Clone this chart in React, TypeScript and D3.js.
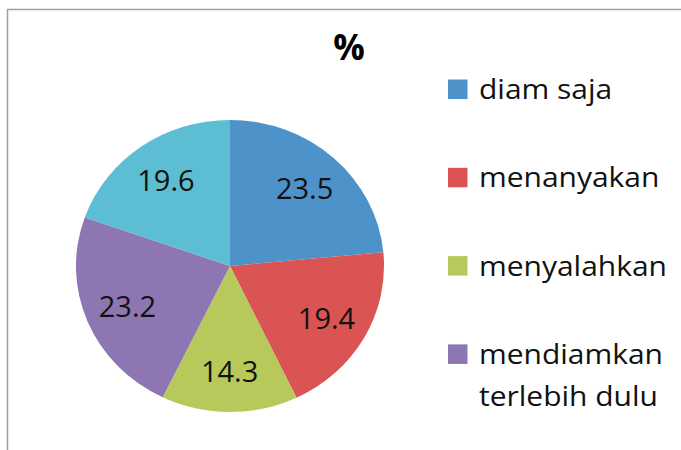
import { useEffect, useRef } from 'react'
import * as d3 from 'd3'

const categories = ['diam saja', 'menanyakan', 'menyalahkan', 'mendiamkan terlebih dulu', 'lainnya']
const values = [23.5, 19.4, 14.3, 23.2, 19.6]
const colors = ['#4D93C9', '#D95452', '#B8C95B', '#8D76B1', '#5DBDD2']
// the legend only shows the first four entries (the fifth is cut off)
const legendLines = [['diam saja'], ['menanyakan'], ['menyalahkan'], ['mendiamkan', 'terlebih dulu']]

const width = 681
const height = 450

export default function App() {
  const svgRef = useRef<SVGSVGElement>(null)

  useEffect(() => {
    if (!svgRef.current) return
    const svg = d3.select(svgRef.current)
    svg.selectAll('*').remove()

    // outer frame
    svg.append('rect')
      .attr('x', 7.5)
      .attr('y', 9.5)
      .attr('width', 700)
      .attr('height', 500)
      .attr('fill', 'white')
      .attr('stroke', '#A0A0A0')
      .attr('stroke-width', 1.5)

    // title
    svg.append('text')
      .attr('x', 349)
      .attr('y', 60)
      .attr('text-anchor', 'middle')
      .style('font-family', '"Open Sans", sans-serif')
      .style('font-weight', 'bold')
      .style('font-size', '35px')
      .text('%')

    const cx = 230
    const cy = 266
    const radius = 146
    const stretch = 1.055

    const data = categories.map((c, i) => ({ name: c, value: values[i] }))
    const pie = d3.pie<{ name: string; value: number }>()
      .value(d => d.value)
      .sort(null)
    const arcs = pie(data)

    const arc = d3.arc<d3.PieArcDatum<{ name: string; value: number }>>()
      .innerRadius(0)
      .outerRadius(radius)

    const labelArc = d3.arc<d3.PieArcDatum<{ name: string; value: number }>>()
      .innerRadius(radius * 0.72)
      .outerRadius(radius * 0.72)

    const g = svg.append('g')
      .attr('transform', `translate(${cx},${cy}) scale(${stretch},1)`)

    g.selectAll('path')
      .data(arcs)
      .enter().append('path')
      .attr('d', arc)
      .attr('fill', (_, i) => colors[i])

    // value labels
    svg.selectAll('.val')
      .data(arcs)
      .enter().append('text')
      .attr('class', 'val')
      .attr('x', d => cx + labelArc.centroid(d)[0] * stretch)
      .attr('y', d => cy + labelArc.centroid(d)[1])
      .attr('dy', '0.38em')
      .attr('text-anchor', 'middle')
      .style('font-family', '"Open Sans", sans-serif')
      .style('font-size', '29px')
      .attr('fill', '#111')
      .text(d => d3.format('.1f')(d.data.value))

    // legend
    const legend = svg.append('g')
    legendLines.forEach((lines, i) => {
      const y = 89 + i * 88.3
      legend.append('rect')
        .attr('x', 448)
        .attr('y', y - 9.5)
        .attr('width', 19.5)
        .attr('height', 19.5)
        .attr('fill', colors[i])
      lines.forEach((line, j) => {
        legend.append('text')
          .attr('transform', `translate(479,${y + 10 + j * 42.5}) scale(1.11,1)`)
          .style('font-family', '"Open Sans", sans-serif')
          .style('font-size', '27px')
          .attr('fill', '#111')
          .text(line)
      })
    })
  }, [])

  return (
    <svg
      ref={svgRef}
      width={width}
      height={height}
      style={{ position: 'fixed', left: 0, top: 0, background: 'white' }}
    />
  )
}
